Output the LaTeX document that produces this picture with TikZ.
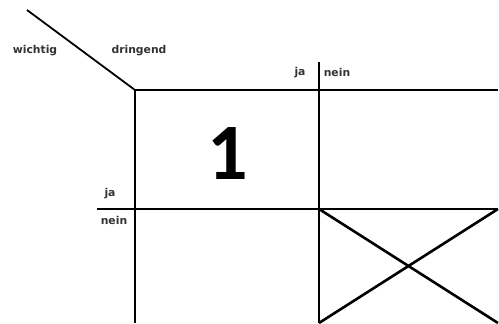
\documentclass[tikz,border=0pt]{standalone}
\usepackage{fontspec}
\setmainfont{Carlito}
\newfontfamily\lblfont{DejaVu Sans}
\begin{document}
\begin{tikzpicture}[x=1pt,y=-1pt,
  grid/.style={line width=2.2pt},
  lbl/.style={font=\lblfont\bfseries\fontsize{10.8}{12}\selectfont, inner sep=0pt, text=black!80},
  big/.style={font=\fontsize{80}{80}\selectfont\bfseries, inner sep=0pt}]
\useasboundingbox (0,0) rectangle (499,324);
% coordinates
\coordinate (diagS) at (27,10);
\coordinate (corner) at (135,90);
\coordinate (topR) at (498,90);
\coordinate (v1B) at (135,323);
\coordinate (v2T) at (319,62);
\coordinate (midV) at (319,209);
\coordinate (v2B) at (319,323);
\coordinate (hL) at (97,209);
\coordinate (hR) at (498,209);
\coordinate (xBR) at (498,323);
% lines
\draw[line width=1.8pt] (diagS) -- (corner);
\draw[grid] (corner) -- (topR);
\draw[grid] (corner) -- (v1B);
\draw[grid] (v2T) -- (v2B);
\draw[grid] (hL) -- (hR);
\draw[line width=2.6pt] (midV) -- (xBR);
\draw[line width=2.6pt] (hR) -- (v2B);
% labels
\node[lbl] (wichtig) at (35,51) {wichtig};
\node[lbl] (dringend) at (139,51) {dringend};
\node[lbl] (jaT) at (300,73) {ja};
\node[lbl] (neinT) at (337,72) {nein};
\node[lbl] (jaL) at (110,194) {ja};
\node[lbl] (neinL) at (114,220) {nein};
\node[big] (one) at (228,154) {1};
\end{tikzpicture}
\end{document}
